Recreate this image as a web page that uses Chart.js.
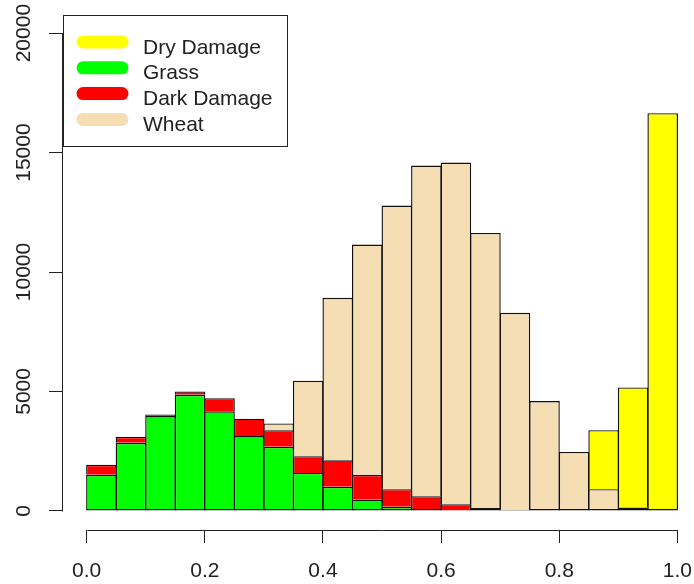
<!DOCTYPE html>
<html>
<head>
<meta charset="utf-8">
<title>Histogram by class</title>
<script src="https://cdn.jsdelivr.net/npm/chart.js@4.4.1/dist/chart.umd.min.js"></script>
<style>
  html, body { margin: 0; padding: 0; background: #fff; }
  canvas { display: block; }
</style>
</head>
<body>
<canvas id="histChart" width="694" height="584"></canvas>
<script>
// bin midpoints (bins are 0.05 wide, 0.0 - 1.0)
const binMids = [0.025, 0.075, 0.125, 0.175, 0.225, 0.275, 0.325, 0.375, 0.425, 0.475,
                 0.525, 0.575, 0.625, 0.675, 0.725, 0.775, 0.825, 0.875, 0.925, 0.975];

// counts per bin, one array per class (stacked bottom to top)
const grass      = [1510, 2850, 3970, 4860, 4170, 3130, 2680, 1590, 1010, 470, 170, 80, 20, 0, 0, 0, 0, 0, 0, 0];
const darkDamage = [420, 250, 70, 140, 550, 730, 700, 700, 1110, 1040, 740, 535, 260, 125, 50, 0, 0, 0, 0, 0];
const wheat      = [0, 0, 0, 0, 0, 0, 280, 3160, 6800, 9640, 11870, 13840, 14300, 11510, 8240, 4600, 2470, 910, 140, 0];
const dryDamage  = [0, 0, 0, 0, 0, 0, 0, 0, 0, 0, 0, 0, 0, 0, 0, 0, 0, 2470, 5030, 16650];

const xTicks = [0, 0.2, 0.4, 0.6, 0.8, 1.0];
const yTicks = [0, 5000, 10000, 15000, 20000];

const legendLabels = ['Dry Damage', 'Grass', 'Dark Damage', 'Wheat'];
const legendColors = ['#ffff00', '#00ff00', '#ff0000', '#f5deb3'];

const series = [
  { label: 'Grass', values: grass, color: '#00ff00' },
  { label: 'Dark Damage', values: darkDamage, color: '#ff0000' },
  { label: 'Wheat', values: wheat, color: '#f5deb3' },
  { label: 'Dry Damage', values: dryDamage, color: '#ffff00' }
];

const ink = '#222';
const edge = 1.4;
const fontFamily = '"Liberation Sans", Arial, sans-serif';
Chart.defaults.font.family = fontFamily;
Chart.defaults.font.size = 21;
Chart.defaults.color = ink;

// only the lowest drawn segment of a stack gets a bottom edge, so seams stay thin
function segmentBorder(ctx) {
  if (ctx.dataIndex === undefined) return edge;
  let below = 0;
  for (let d = 0; d < ctx.datasetIndex; d++) {
    below += ctx.chart.data.datasets[d].data[ctx.dataIndex].y;
  }
  return { top: edge, left: edge, right: edge, bottom: below === 0 ? edge : 0 };
}

// axis lines that run only from the first to the last tick
const axisLines = {
  id: 'axisLines',
  afterDraw(chart) {
    const { ctx, chartArea, scales: { x, y } } = chart;
    ctx.save();
    ctx.strokeStyle = ink;
    ctx.lineWidth = 1;
    ctx.beginPath();
    const ax = Math.round(chartArea.left) - 0.5;
    ctx.moveTo(ax, Math.round(y.getPixelForValue(yTicks[0])) + 0.5);
    ctx.lineTo(ax, Math.round(y.getPixelForValue(yTicks[yTicks.length - 1])) + 0.5);
    const ay = Math.round(chartArea.bottom) + 0.5;
    ctx.moveTo(Math.round(x.getPixelForValue(xTicks[0])) + 0.5, ay);
    ctx.lineTo(Math.round(x.getPixelForValue(xTicks[xTicks.length - 1])) + 0.5, ay);
    ctx.stroke();
    ctx.restore();
  }
};

// framed legend in the top-left corner of the plot
const boxLegend = {
  id: 'boxLegend',
  afterDraw(chart) {
    const { ctx, chartArea } = chart;
    const left = Math.round(chartArea.left) + 0.5;
    const top = Math.round(chartArea.top) + 1.5;
    ctx.save();
    ctx.font = '21px ' + fontFamily;
    const textW = Math.max(...legendLabels.map(t => ctx.measureText(t).width));
    const w = Math.round(80 + textW + 14);
    const h = 131;
    ctx.fillStyle = '#fff';
    ctx.fillRect(left, top, w, h);
    ctx.strokeStyle = ink;
    ctx.lineWidth = 1;
    ctx.strokeRect(left, top, w, h);
    legendLabels.forEach((label, i) => {
      const base = top + 38 + i * 25.8;
      ctx.strokeStyle = legendColors[i];
      ctx.lineWidth = 13;
      ctx.lineCap = 'round';
      ctx.beginPath();
      ctx.moveTo(left + 19.5, base - 11.5);
      ctx.lineTo(left + 58.5, base - 11.5);
      ctx.stroke();
      ctx.fillStyle = ink;
      ctx.textBaseline = 'alphabetic';
      ctx.fillText(label, left + 79.5, base);
    });
    ctx.restore();
  }
};

new Chart(document.getElementById('histChart').getContext('2d'), {
  type: 'bar',
  data: {
    datasets: series.map(s => ({
      label: s.label,
      data: binMids.map((x, i) => ({ x: x, y: s.values[i] })),
      backgroundColor: s.color,
      borderColor: '#111',
      borderWidth: segmentBorder,
      borderSkipped: false,
      barPercentage: 1.034,
      categoryPercentage: 1
    }))
  },
  options: {
    responsive: false,
    animation: false,
    layout: { padding: { top: 14, right: 0, bottom: 0, left: 0 } },
    plugins: {
      legend: { display: false },
      tooltip: { enabled: false }
    },
    scales: {
      x: {
        type: 'linear',
        stacked: true,
        offset: false,
        min: -0.04,
        max: 1.028,
        afterBuildTicks: s => { s.ticks = xTicks.map(v => ({ value: v })); },
        // the plot runs to the right edge; the last label has room inside it
        afterFit: s => { s.height = 54; s.paddingLeft = 0; s.paddingRight = 0; },
        grid: { drawOnChartArea: false, drawTicks: true, tickLength: 13, tickColor: ink, offset: false },
        border: { display: false },
        ticks: { padding: 16, maxRotation: 0, autoSkip: false, callback: v => v.toFixed(1) }
      },
      y: {
        stacked: true,
        min: -800,
        max: 20800,
        afterBuildTicks: s => { s.ticks = yTicks.map(v => ({ value: v })); },
        afterFit: s => { s.width = 63; },
        grid: { drawOnChartArea: false, drawTicks: true, tickLength: 14, tickColor: ink },
        border: { display: false },
        ticks: { minRotation: 90, maxRotation: 90, crossAlign: 'center', padding: -4, autoSkip: false, callback: v => String(v) }
      }
    }
  },
  plugins: [axisLines, boxLegend]
});
</script>
</body>
</html>
